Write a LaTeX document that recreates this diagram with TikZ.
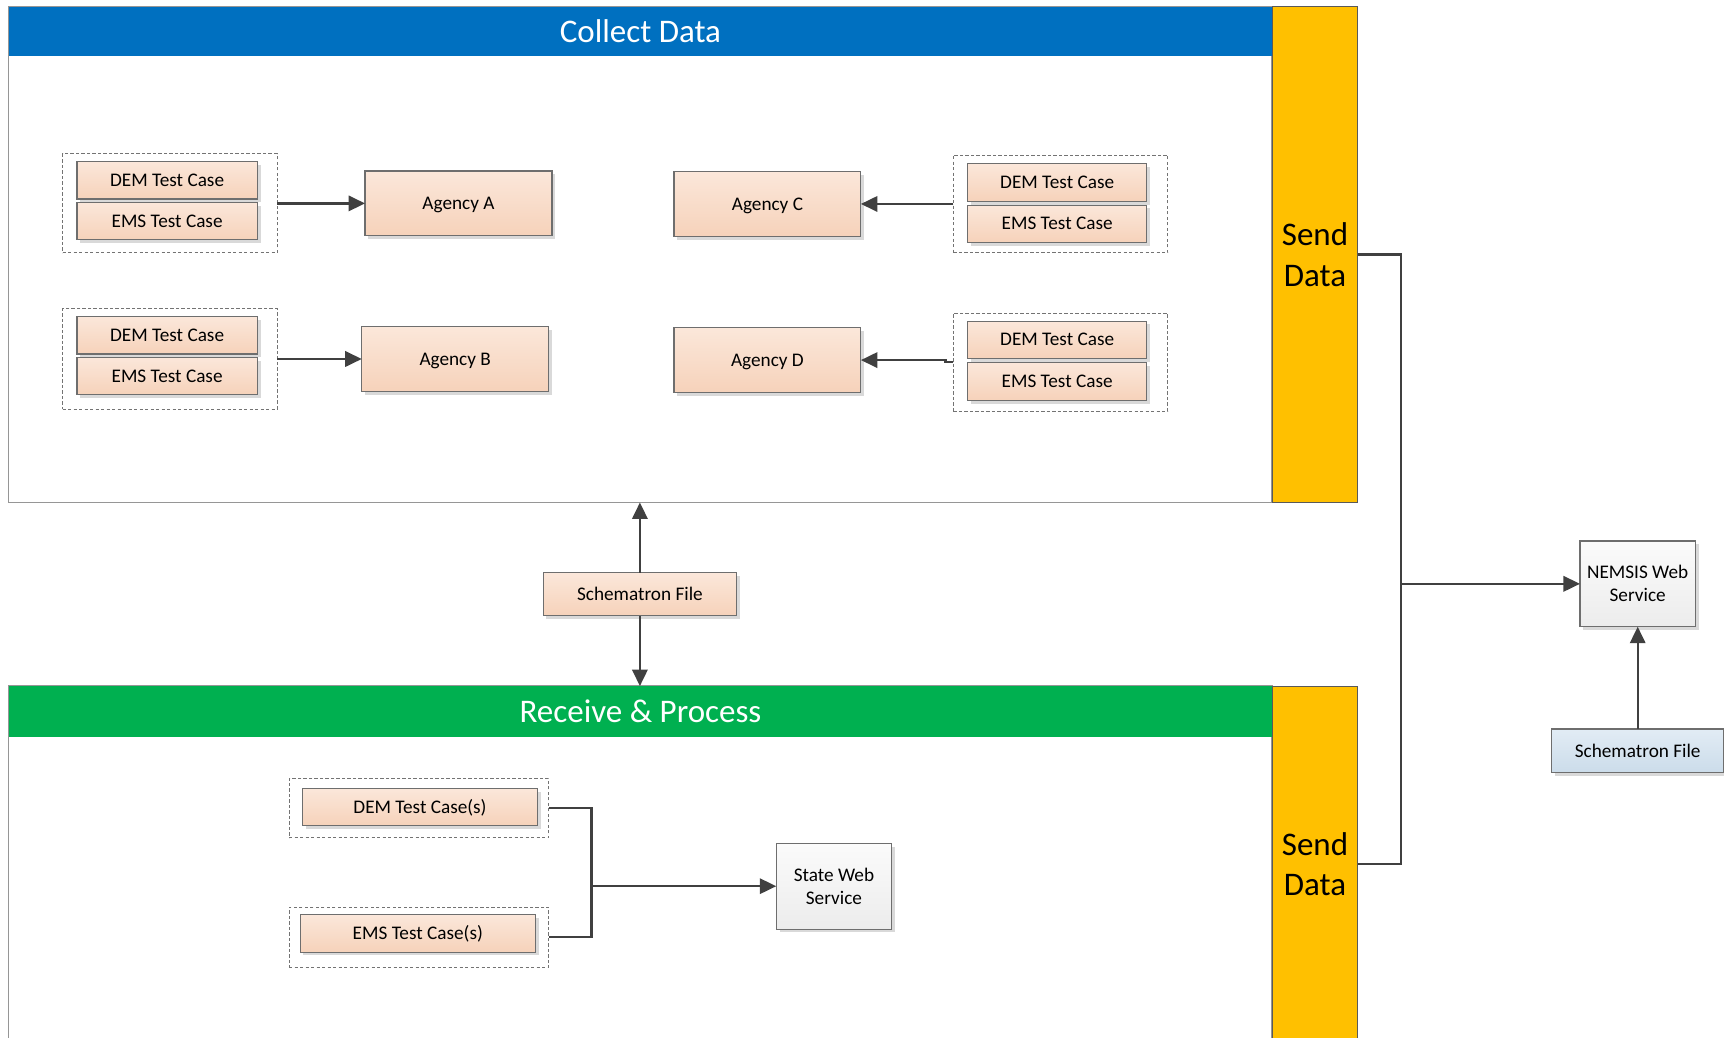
\documentclass[tikz,border=0pt]{standalone}
\usepackage{fontspec}
\setmainfont{Carlito}
\usetikzlibrary{arrows.meta,shadows}
\definecolor{hdrblue}{HTML}{0070C0}
\definecolor{hdrgreen}{HTML}{00B050}
\definecolor{sendyel}{HTML}{FFC000}
\definecolor{orTop}{HTML}{FBE7DA}
\definecolor{orBot}{HTML}{F6D2BA}
\definecolor{gyTop}{HTML}{FBFBFB}
\definecolor{gyBot}{HTML}{ECECEC}
\definecolor{blTop}{HTML}{E2ECF5}
\definecolor{blBot}{HTML}{CBDCEA}
\definecolor{boxline}{HTML}{6E6E6E}
\definecolor{connc}{HTML}{404040}
\definecolor{panelline}{HTML}{969696}
\begin{document}
\begin{tikzpicture}[x=1pt,y=-1pt,
  every node/.style={inner sep=0pt, outer sep=0pt},
  small/.style={font=\fontsize{17.5}{21}\selectfont},
  big/.style={font=\fontsize{30}{37}\selectfont},
  oneline/.style={text height=13pt, text depth=1.7pt},
  shad/.style={drop shadow={shadow xshift=3pt,shadow yshift=-3pt,fill=black!15,opacity=1}},
  obox/.style={small, oneline, draw=boxline, line width=1pt, top color=orTop, bottom color=orBot, shad},
  gbox/.style={small, align=center, draw=boxline, line width=1pt, top color=gyTop, bottom color=gyBot, shad},
  bbox/.style={small, oneline, draw=boxline, line width=1pt, top color=blTop, bottom color=blBot, shad},
  grp/.style={draw=black!55, line width=0.9pt, dash pattern=on 3pt off 2pt},
  panel/.style={draw=panelline, line width=1.2pt, fill=white},
  hdr/.style={big, text=white},
  senddata/.style={big, align=center, draw=black!65, line width=1pt, fill=sendyel, minimum width=78pt},
  conn/.style={draw=connc, line width=2pt},
  arr/.style={conn, -{Triangle[length=15pt,width=14pt]}}
]
\useasboundingbox (0,0) rectangle (1568,944);

% ---------- Collect Data panel ----------
\node[panel, minimum width=1149pt, minimum height=451pt] (collect) at (582.5,231.5) {};
\node[hdr, fill=hdrblue, minimum width=1149pt, minimum height=45pt] (collecthead) at (582.5,28.5) {Collect Data};
\node[senddata, minimum height=451pt] (sd1) at (1196,231.5) {Send\\Data};

% ---------- Receive & Process panel ----------
\node[panel, minimum width=1149pt, minimum height=324pt] (receive) at (582.5,786) {};
\node[hdr, fill=hdrgreen, minimum width=1149pt, minimum height=46pt] (recvhead) at (582.5,647) {Receive \& Process};
\node[senddata, minimum height=324pt] (sd2) at (1196,786) {Send\\Data};

% ---------- groups of test cases ----------
\node[grp, minimum width=195pt, minimum height=90pt] (g1) at (154.5,185) {};
\node[obox, minimum width=164pt, minimum height=34pt] (dem1) at (152,164) {DEM Test Case};
\node[obox, minimum width=164pt, minimum height=34pt] (ems1) at (152,201) {EMS Test Case};

\node[grp, minimum width=195pt, minimum height=91pt] (g2) at (154.5,326.5) {};
\node[obox, minimum width=164pt, minimum height=34pt] (dem2) at (152,305) {DEM Test Case};
\node[obox, minimum width=164pt, minimum height=34pt] (ems2) at (152,342) {EMS Test Case};

\node[grp, minimum width=195pt, minimum height=89pt] (g3) at (964.5,185.5) {};
\node[obox, minimum width=163pt, minimum height=34pt] (dem3) at (961.5,166) {DEM Test Case};
\node[obox, minimum width=163pt, minimum height=34pt] (ems3) at (961.5,203.5) {EMS Test Case};

\node[grp, minimum width=195pt, minimum height=89pt] (g4) at (964.5,329.5) {};
\node[obox, minimum width=163pt, minimum height=34pt] (dem4) at (961.5,309) {DEM Test Case};
\node[obox, minimum width=163pt, minimum height=34pt] (ems4) at (961.5,347) {EMS Test Case};

% ---------- agencies ----------
\node[obox, minimum width=170pt, minimum height=59pt] (aga) at (417,185) {Agency A};
\node[obox, minimum width=170pt, minimum height=59pt] (agb) at (414,326.5) {Agency B};
\node[obox, minimum width=170pt, minimum height=59pt] (agc) at (698,185.5) {Agency C};
\node[obox, minimum width=170pt, minimum height=59pt] (agd) at (698,327.5) {Agency D};

\draw[arr] (g1.east) -- (aga.west);
\draw[arr] (g2.east) -- (agb.west);
\draw[arr] (g3.west) -- (agc.east);
\draw[arr] (g4.west) -- ++(-7,0) |- (agd.east);

% ---------- middle schematron ----------
\node[obox, minimum width=176pt, minimum height=39pt] (sch1) at (582,540.5) {Schematron File};
\draw[arr] (sch1.north) -- (sch1.north |- collect.south);
\draw[arr] (sch1.south) -- (sch1.south |- recvhead.north);

% ---------- receive & process content ----------
\node[grp, minimum width=236pt, minimum height=54pt] (g5) at (381,735) {};
\node[obox, minimum width=214pt, minimum height=34pt] (demS) at (382,734) {DEM Test Case(s)};
\node[grp, minimum width=236pt, minimum height=55pt] (g6) at (381,852.5) {};
\node[obox, minimum width=214pt, minimum height=34pt] (emsS) at (380,849) {EMS Test Case(s)};
\node[gbox, minimum width=105pt, minimum height=78pt] (sws) at (758.5,806) {State Web\\Service};

\coordinate (join) at (538,806);
\draw[conn] (g5.east) -| (join);
\draw[conn] (g6.east) -| (join);
\draw[arr] (join) -- (sws.west);

% ---------- NEMSIS ----------
\node[gbox, minimum width=105pt, minimum height=78pt] (nemsis) at (1489.5,531) {NEMSIS Web\\Service};
\node[bbox, minimum width=157pt, minimum height=40pt] (sch2) at (1489.5,683) {Schematron File};
\draw[arr] (sch2.north) -- (nemsis.south);

\coordinate (bus) at (1274,531);
\draw[conn] (sd1.east) -| (bus) |- (sd2.east);
\draw[arr] (bus) -- (nemsis.west);
\end{tikzpicture}
\end{document}
